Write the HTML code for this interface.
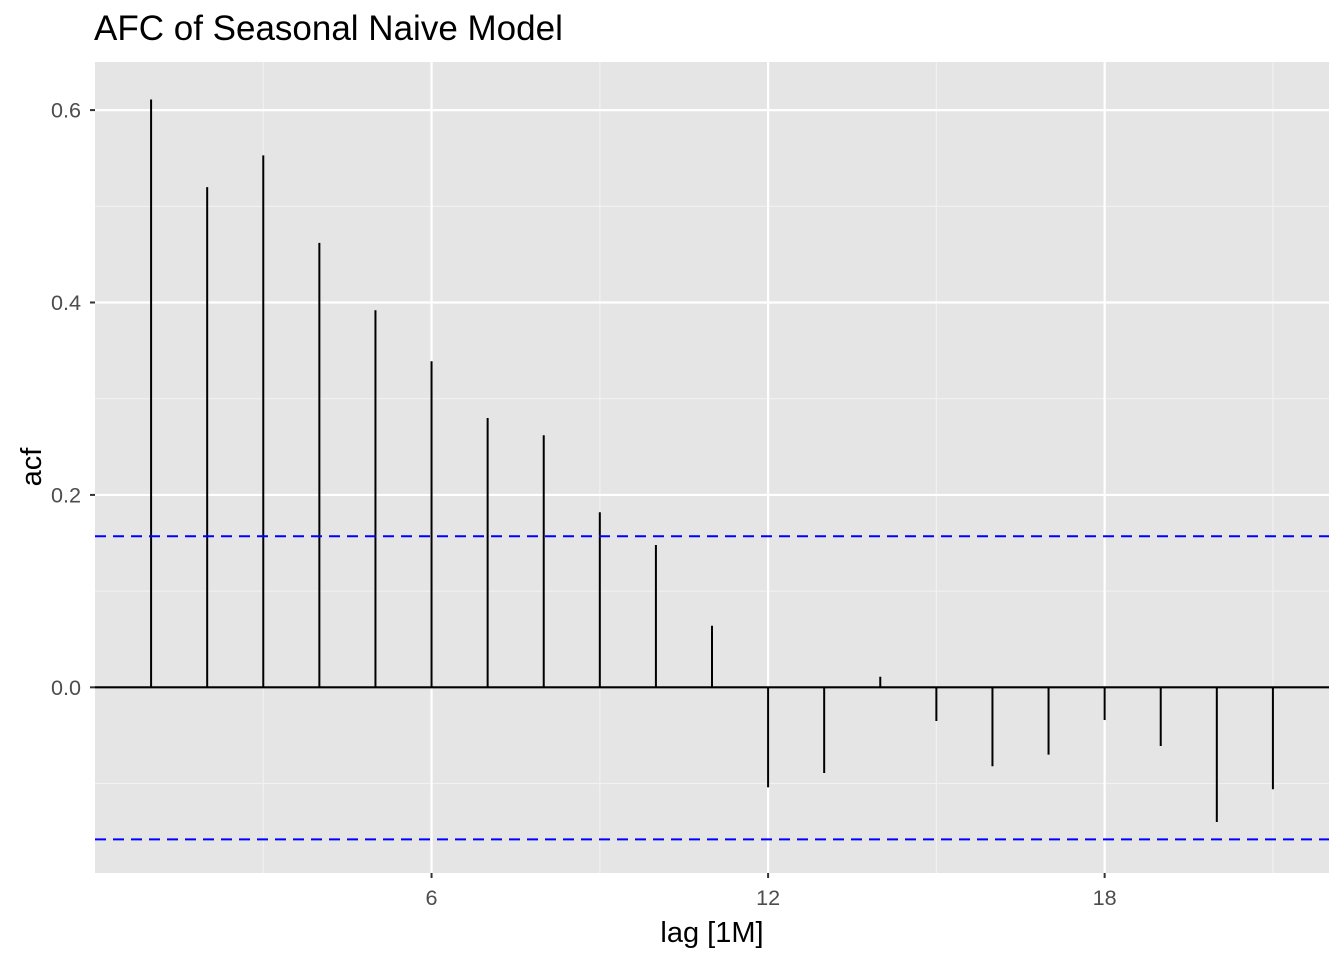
<!DOCTYPE html>
<html><head><meta charset="utf-8"><style>
body{margin:0;background:#fff;}
svg{display:block;font-family:"Liberation Sans",Arial,sans-serif;}
</style></head><body>
<svg id="chart" width="1344" height="960">
<text x="94" y="40" font-size="35" fill="#000">AFC of Seasonal Naive Model</text>
<rect x="95" y="62" width="1234" height="811" fill="#e5e5e5"/>
<g id="grid"></g><g id="marks"></g><g id="axes"></g>
<text x="712" y="942" font-size="29" text-anchor="middle" fill="#000">lag [1M]</text>
<text transform="translate(41,467) rotate(-90)" font-size="29" text-anchor="middle" fill="#000">acf</text>
</svg>
<script>
const lags=[1,2,3,4,5,6,7,8,9,10,11,12,13,14,15,16,17,18,19,20,21];
const acfValues=[0.611,0.520,0.553,0.462,0.392,0.339,0.280,0.262,0.182,0.148,0.064,-0.104,-0.089,0.011,-0.035,-0.082,-0.070,-0.034,-0.061,-0.140,-0.106];
const ciBounds=[0.157,-0.158];
const yMajor=[0,0.2,0.4,0.6];
const yMajorLabels=["0.0","0.2","0.4","0.6"];
const yMinor=[-0.1,0.1,0.3,0.5];
const xMajor=[6,12,18];
const xMinor=[3,9,15,21];
const X0=95,X1=1329,Y0=62,Y1=873;
const xd=[0,22],yd=[-0.193,0.650];
const sx=v=>X0+(v-xd[0])/(xd[1]-xd[0])*(X1-X0);
const sy=v=>Y1-(v-yd[0])/(yd[1]-yd[0])*(Y1-Y0);
const NS="http://www.w3.org/2000/svg";
function mk(p,t,a){const e=document.createElementNS(NS,t);for(const k in a)e.setAttribute(k,a[k]);p.appendChild(e);return e;}
const grid=document.getElementById('grid'),marks=document.getElementById('marks'),axes=document.getElementById('axes');
yMinor.forEach(v=>{const l=mk(grid,'line',{x1:X0,x2:X1,y1:sy(v),y2:sy(v),stroke:'#f2f2f2','stroke-width':1.1});

});
xMinor.forEach(v=>{const l=mk(grid,'line',{x1:sx(v),x2:sx(v),y1:Y0,y2:Y1,stroke:'#f2f2f2','stroke-width':1.1});

});
yMajor.forEach((v,i)=>{const l=mk(grid,'line',{x1:X0,x2:X1,y1:sy(v),y2:sy(v),stroke:'#fff','stroke-width':2.2});


const k=mk(axes,'line',{x1:X0-5,x2:X0,y1:sy(v),y2:sy(v),stroke:'#333','stroke-width':2});


const t=mk(axes,'text',{x:X0-14,y:sy(v)+7.5,'font-size':21.6,'text-anchor':'end',fill:'#4d4d4d'});t.textContent=yMajorLabels[i];

});
xMajor.forEach(v=>{const l=mk(grid,'line',{x1:sx(v),x2:sx(v),y1:Y0,y2:Y1,stroke:'#fff','stroke-width':2.2});


const k=mk(axes,'line',{x1:sx(v),x2:sx(v),y1:Y1,y2:Y1+5,stroke:'#333','stroke-width':2});


const t=mk(axes,'text',{x:sx(v),y:Y1+32,'font-size':21.6,'text-anchor':'middle',fill:'#4d4d4d'});t.textContent=String(v);

});
lags.forEach((g,i)=>{const l=mk(marks,'line',{x1:sx(g),x2:sx(g),y1:sy(0),y2:sy(acfValues[i]),stroke:'#000','stroke-width':2});

});
const z=mk(marks,'line',{x1:X0,x2:X1,y1:sy(0),y2:sy(0),stroke:'#000','stroke-width':2.2});


ciBounds.forEach(v=>{const l=mk(marks,'line',{x1:X0,x2:X1,y1:sy(v),y2:sy(v),stroke:'#0000ff','stroke-width':2,'stroke-dasharray':'11,7'});

});
</script>
</body></html>
